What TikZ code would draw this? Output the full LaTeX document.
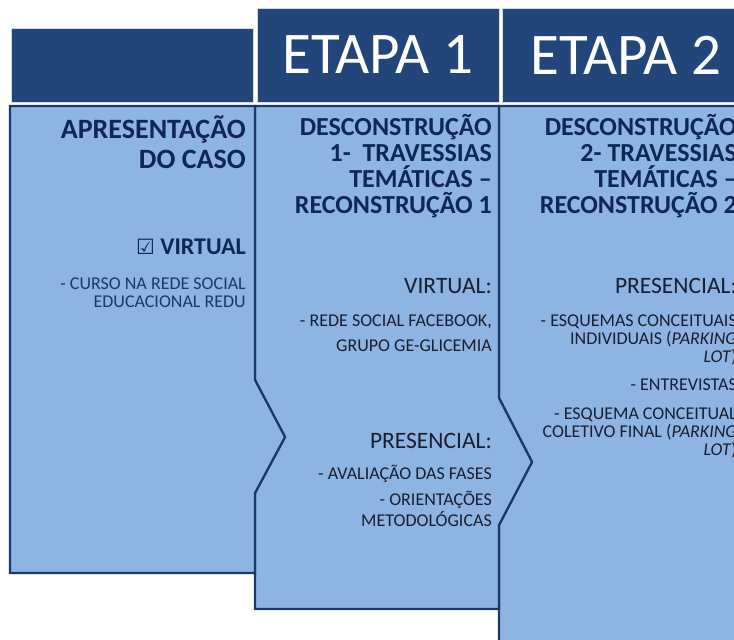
\documentclass[tikz,border=0pt]{standalone}
\usepackage{fontspec}
\setmainfont{Carlito}
\newfontfamily\symfnt{DejaVu Sans}
\definecolor{hdr}{RGB}{35,70,122}
\definecolor{panefill}{RGB}{142,180,227}
\definecolor{edge}{RGB}{28,56,100}
\definecolor{ttl}{RGB}{16,38,86}
\definecolor{txt}{RGB}{26,30,46}
\definecolor{txtb}{RGB}{30,55,105}
\begin{document}
\begin{tikzpicture}[x=1pt,y=-1pt,
  hbox/.style={fill=hdr,draw=white!80!hdr,line width=1pt},
  panel/.style={fill=panefill,draw=edge,line width=2.2pt,line join=miter},
  ttlnode/.style={font=\bfseries\fontsize{26}{26}\selectfont,text=ttl,align=right,anchor=base east,inner sep=0pt},
  subnode/.style={font=\fontsize{23.5}{26}\selectfont,text=txt,anchor=base east,inner sep=0pt},
  lstnode/.style={font=\fontsize{18}{18}\selectfont,text=txt,align=right,anchor=base east,inner sep=0pt}]
\useasboundingbox(0,0)rectangle(734,640);
\clip(0,0)rectangle(734,640);
% column headers
\draw[hbox](11,28)rectangle(253,102);
\draw[hbox](257,8)rectangle(499,102);
\draw[hbox](502,8)rectangle(750,102);
\node[font=\fontsize{59}{60}\selectfont,text=white](h1)at(378,55){ETAPA 1};
\node[font=\fontsize{59}{60}\selectfont,text=white](h2)at(626,55){ETAPA 2};
% panels, back to front
\draw[panel](499,106)--(760,106)--(760,660)--(499,660)--(499,525)--(532,462)--(499,398)--cycle;
\draw[panel](255,106)--(499,106)--(499,398)--(532,462)--(499,525)--(499,609)--(255,609)--(255,493)--(285,437)--(255,380)--cycle;
\draw[panel](10,106)--(255,106)--(255,380)--(285,437)--(255,493)--(255,573)--(10,573)--cycle;
% first panel (multi-line nodes sit on their last baseline)
\node[ttlnode,font=\bfseries\fontsize{28}{30}\selectfont](caso)at(246,168){APRESENTAÇÃO\\DO CASO};
\node[subnode,font=\bfseries\fontsize{24}{26}\selectfont,text=ttl](virt0)at(246,254){{\symfnt\fontsize{21}{24}\selectfont ☑} VIRTUAL};
\node[lstnode,text=txtb](redu)at(246,307){- CURSO NA REDE SOCIAL\\EDUCACIONAL REDU};
% etapa 1
\node[ttlnode](desc1)at(492,213){DESCONSTRUÇÃO\\1- \ TRAVESSIAS\\TEMÁTICAS –\\RECONSTRUÇÃO 1};
\node[subnode](virt1)at(492,293){VIRTUAL:};
\node[lstnode,font=\fontsize{18}{25}\selectfont](fb)at(492,351){- REDE SOCIAL FACEBOOK,\\GRUPO GE-GLICEMIA};
\node[subnode](pres1)at(492,448){PRESENCIAL:};
\node[lstnode](fases)at(492,479){- AVALIAÇÃO DAS FASES};
\node[lstnode,font=\fontsize{18}{21}\selectfont](orient)at(492,526){- ORIENTAÇÕES\\METODOLÓGICAS};
% etapa 2
\node[ttlnode](desc2)at(737,213){DESCONSTRUÇÃO\\2- TRAVESSIAS\\TEMÁTICAS –\\RECONSTRUÇÃO 2};
\node[subnode](pres2)at(737,293){PRESENCIAL:};
\node[lstnode](esq1)at(737,362){- ESQUEMAS CONCEITUAIS\\INDIVIDUAIS (\textit{PARKING}\\\textit{LOT})};
\node[lstnode](entrev)at(737,390){- ENTREVISTAS};
\node[lstnode](esq2)at(737,455){- ESQUEMA CONCEITUAL\\COLETIVO FINAL (\textit{PARKING}\\\textit{LOT})};
\end{tikzpicture}
\end{document}
